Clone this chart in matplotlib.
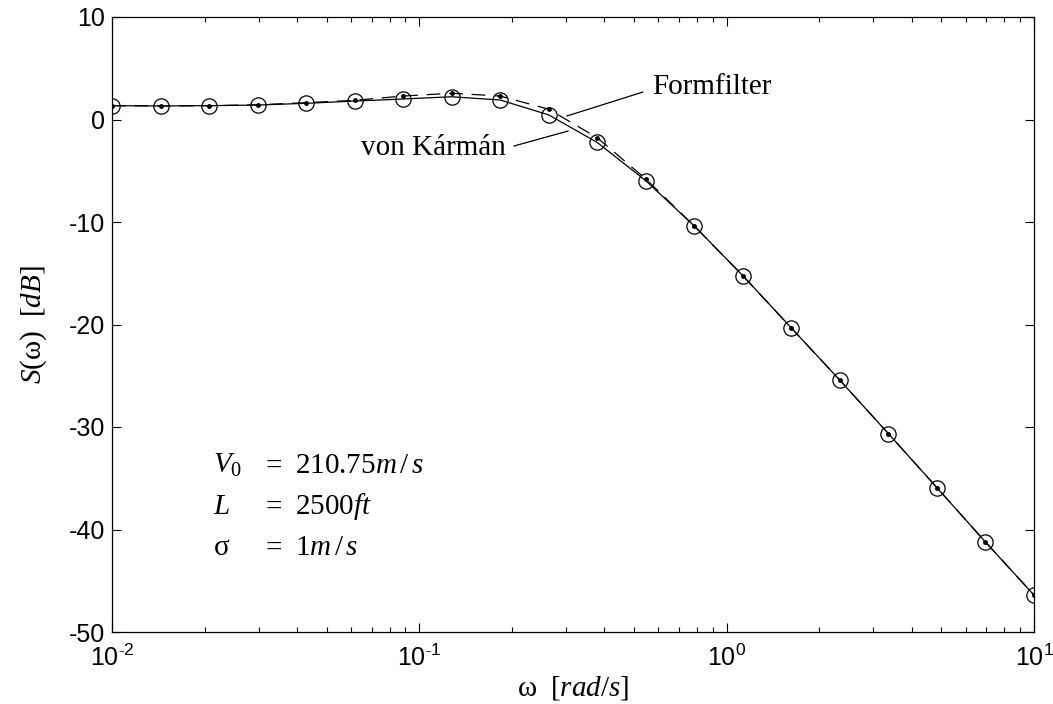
import numpy as np
import matplotlib
matplotlib.use("Agg")
import matplotlib.pyplot as plt
from matplotlib.ticker import FixedLocator, LogLocator, NullLocator, FuncFormatter

plt.rcParams['mathtext.fontset'] = 'custom'
plt.rcParams['mathtext.rm'] = 'Liberation Serif'
plt.rcParams['mathtext.it'] = 'Liberation Serif:italic'
plt.rcParams['mathtext.sf'] = 'Liberation Sans'
plt.rcParams['axes.unicode_minus'] = False

# frequency grid (20 log-spaced points, 1e-2 .. 1e1)
omega = np.logspace(-2, 1, 20)

# spectra in dB
s_karman = [1.35, 1.32, 1.35, 1.41, 1.58, 1.80, 2.00, 2.22, 1.90, 0.45,
            -2.24, -5.97, -10.39, -15.24, -20.34, -25.44, -30.65, -35.92,
            -41.22, -46.40]
s_formfilter = [1.35, 1.32, 1.35, 1.43, 1.64, 1.87, 2.29, 2.56, 2.29, 1.00,
                -1.78, -5.80, -10.39, -15.24, -20.34, -25.44, -30.65, -35.92,
                -41.22, -46.40]

yticks = [10, 0, -10, -20, -30, -40, -50]
xticks = [1e-2, 1e-1, 1e0, 1e1]


def dec_label(v, pos):
    e = int(round(np.log10(v)))
    if e < 0:
        return r'$\mathsf{10^{\text{-}%d}}$' % (-e)
    return r'$\mathsf{10^{%d}}$' % e


fig = plt.figure(figsize=(10.53, 7.04), dpi=100)
ax = fig.add_axes([112 / 1053, 72 / 704, 922 / 1053, 615 / 704])

ax.plot(omega, s_karman, color='black', lw=0.9, linestyle='-',
        marker='o', markersize=11, markerfacecolor='none',
        markeredgewidth=0.9)
ax.plot(omega, s_formfilter, color='black', lw=0.9, linestyle=(0, (11, 7)),
        marker='.', markersize=5)

ax.set_xscale('log')
ax.set_xlim(1e-2, 1e1)
ax.set_ylim(-50, 10)

ax.xaxis.set_major_locator(FixedLocator(xticks))
ax.xaxis.set_minor_locator(LogLocator(base=10, subs=np.arange(2, 10)))
ax.xaxis.set_major_formatter(FuncFormatter(dec_label))
ax.yaxis.set_major_locator(FixedLocator(yticks))
ax.yaxis.set_minor_locator(NullLocator())

ax.tick_params(which='both', direction='in', top=True, right=True, width=0.8)
ax.tick_params(which='major', length=6.5)
ax.tick_params(which='minor', length=3.6)
ax.tick_params(axis='x', pad=9, labelsize=18)
ax.tick_params(axis='y', pad=5, labelsize=18)
for lab in ax.get_yticklabels():
    lab.set_family('Liberation Sans')
for sp in ax.spines.values():
    sp.set_linewidth(0.9)

ax.set_xlabel(r'$\mathrm{\omega}\ \ [rad/s]$', fontsize=21, labelpad=2)
ax.set_ylabel(r'$S(\mathrm{\omega})\ \ [dB]$', fontsize=21, labelpad=14)

# leader lines + labels
ann = dict(arrowstyle='-', lw=0.9, color='black', shrinkA=0, shrinkB=0)
ax.annotate('', xy=(0.302, 0.34), xytext=(0.534, 2.68), arrowprops=ann)
ax.text(0.571, 3.17, 'Formfilter', fontsize=21, family='Liberation Serif',
        ha='left', va='center')
ax.annotate('', xy=(0.305, -1.12), xytext=(0.203, -2.59), arrowprops=ann)
ax.text(0.191, -2.78, 'von Kármán', fontsize=21, family='Liberation Serif',
        ha='right', va='center')

# parameter block
rows = [(r'$V_\mathrm{0}$', r'$\mathrm{210.75}m\,/\,s$'),
        (r'$L$', r'$\mathrm{2500}ft$'),
        (r'$\mathrm{\sigma}$', r'$\mathrm{1}m\,/\,s$')]
for k, (sym, val) in enumerate(rows):
    yy = 1 - (465 + 41 * k) / 704
    fig.text(213 / 1053, yy, sym, fontsize=21, ha='left', va='center')
    fig.text(261 / 1053, yy, r'$=$', fontsize=21, ha='left', va='center')
    fig.text(295 / 1053, yy, val, fontsize=21, ha='left', va='center')

fig.savefig('out.png', dpi=100)
